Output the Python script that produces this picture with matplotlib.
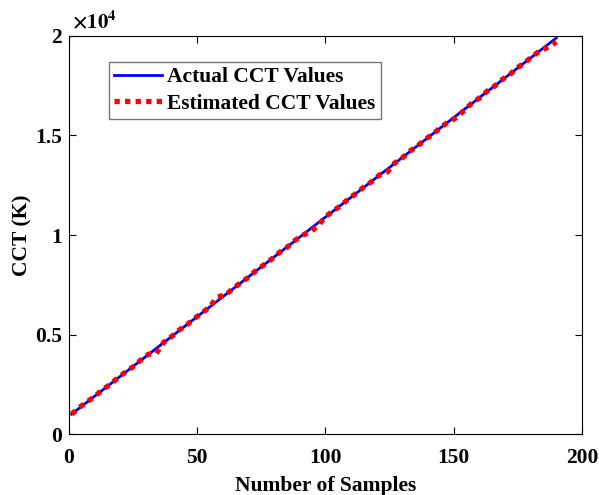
import matplotlib
matplotlib.use("Agg")
import matplotlib.pyplot as plt
from matplotlib.ticker import FuncFormatter

# sample index
samples = [1, 4, 7, 10, 13, 16, 19, 22, 25, 28, 31, 34, 37, 40, 43, 46, 49, 52, 55, 58,
           61, 64, 67, 70, 73, 76, 79, 82, 85, 88, 91, 94, 97, 100, 103, 106, 109, 112, 115, 118,
           121, 124, 127, 130, 133, 136, 139, 142, 145, 148, 151, 154, 157, 160, 163, 166, 169, 172, 175, 178,
           181, 184, 187, 190]

# actual CCT (K)
actual_cct = [1000, 1300, 1600, 1900, 2200, 2500, 2800, 3100, 3400, 3700, 4000, 4300, 4600, 4900, 5200, 5500, 5800, 6100, 6400, 6700,
              7000, 7300, 7600, 7900, 8200, 8500, 8800, 9100, 9400, 9700, 10000, 10300, 10600, 10900, 11200, 11500, 11800, 12100, 12400, 12700,
              13000, 13300, 13600, 13900, 14200, 14500, 14800, 15100, 15400, 15700, 16000, 16300, 16600, 16900, 17200, 17500, 17800, 18100, 18400, 18700,
              19000, 19300, 19600, 19900]

# estimated CCT (K)
estimated_cct = [1000, 1330, 1620, 1880, 2230, 2480, 2820, 3110, 3380, 3720, 4010, 4050, 4620, 4900, 5230, 5490, 5820, 6090, 6420, 6900,
                 6980, 7320, 7610, 7880, 8220, 8500, 8790, 9120, 9380, 9720, 9990, 10150, 10450, 10920, 11210, 11480, 11820, 12090, 12420, 12680,
                 13010, 13150, 13620, 13880, 14220, 14490, 14820, 15080, 15420, 15690, 15900, 16250, 16620, 16880, 17230, 17490, 17820, 18080, 18420, 18690,
                 19020, 19280, 19450, 19700]

plt.rcParams['font.family'] = ['Liberation Serif', 'DejaVu Serif']
plt.rcParams['font.weight'] = 'bold'
plt.rcParams['mathtext.fontset'] = 'stix'

fig = plt.figure(figsize=(5.99, 4.95), dpi=100)
ax = fig.add_axes([0.1152, 0.1232, 0.8564, 0.8041])

ax.plot(samples, actual_cct, color='blue', linewidth=2, label='Actual CCT Values')
ax.plot(samples, estimated_cct, color='red', linewidth=3.8, linestyle=(0, (1, 1.0)),
        label='Estimated CCT Values')

ax.set_xlim(0, 200)
ax.set_ylim(0, 20000)
ax.set_xticks([0, 50, 100, 150, 200])
ax.set_yticks([0, 5000, 10000, 15000, 20000])
ax.yaxis.set_major_formatter(FuncFormatter(lambda v, p: '%g' % (v / 1e4)))
ax.tick_params(direction='in', top=True, right=True, labelsize=15.5, length=5, width=0.8)
ax.tick_params(axis='x', pad=10)
ax.tick_params(axis='y', pad=5)
for lbl in ax.get_xticklabels() + ax.get_yticklabels():
    lbl.set_fontweight('bold')

ax.text(0.005, 1.008, r'$\times10^4$', transform=ax.transAxes, fontsize=15,
        ha='left', va='bottom')

ax.set_xlabel('Number of Samples', fontsize=15.5, fontweight='bold', labelpad=6)
ax.set_ylabel('CCT (K)', fontsize=15.5, fontweight='bold', labelpad=2)

leg = ax.legend(loc='upper left', bbox_to_anchor=(0.078, 0.935), borderaxespad=0,
                fontsize=15.5, frameon=True, fancybox=False, edgecolor='#555555',
                handlelength=2.2, handletextpad=0.25, borderpad=0.25, labelspacing=0.3)
leg.get_frame().set_linewidth(1.0)

fig.savefig('out.png', dpi=100)
